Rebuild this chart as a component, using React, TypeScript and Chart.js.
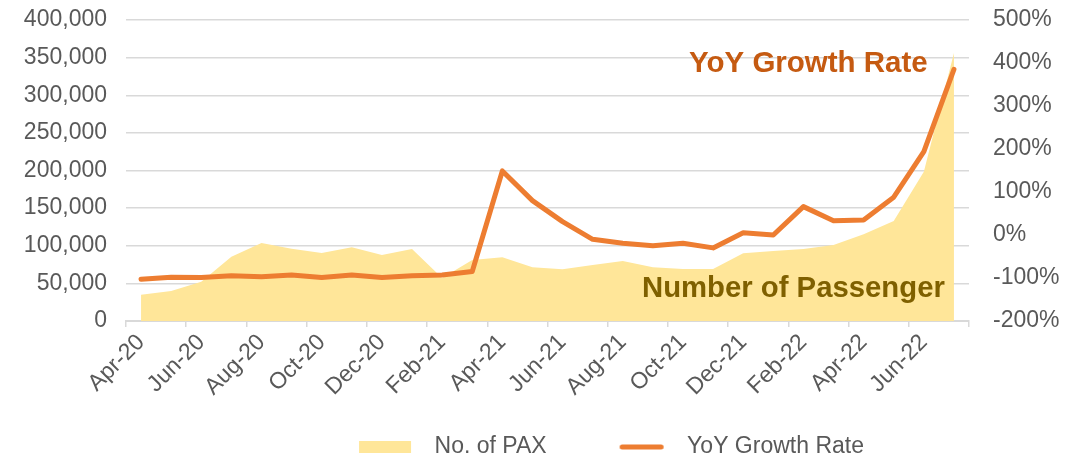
import React, { useEffect, useRef } from 'react';
import { Chart, registerables } from 'chart.js';

Chart.register(...registerables);

const months = [
  'Apr-20', 'May-20', 'Jun-20', 'Jul-20', 'Aug-20', 'Sep-20', 'Oct-20', 'Nov-20', 'Dec-20',
  'Jan-21', 'Feb-21', 'Mar-21', 'Apr-21', 'May-21', 'Jun-21', 'Jul-21', 'Aug-21', 'Sep-21',
  'Oct-21', 'Nov-21', 'Dec-21', 'Jan-22', 'Feb-22', 'Mar-22', 'Apr-22', 'May-22', 'Jun-22', 'Jul-22',
];

const paxValues = [
  35000, 40000, 52000, 85500, 103700, 96100, 90400, 97900, 87700,
  95700, 57000, 81000, 84700, 71400, 68700, 74400, 79700, 71400,
  69100, 69100, 90000, 93000, 95700, 101000, 115200, 132900, 198400, 356000,
];

const yoyGrowth = [
  -103, -98, -99, -95, -97, -93, -99, -93, -99,
  -95, -93, -85, 149, 80, 31, -10, -19, -25,
  -19, -30, 5, 0, 66, 33, 35, 88, 194, 385,
];

const seriesNames = ['No. of PAX', 'YoY Growth Rate'];
const annotationTexts = ['YoY Growth Rate', 'Number of Passenger'];

const FONT = '"Liberation Sans", Arial, sans-serif';
const AREA_COLOR = '#FFE699';
const LINE_COLOR = '#ED7D31';
const GRID_COLOR = '#D9D9D9';
const TEXT_COLOR = '#595959';
const CLEAR = 'rgba(0,0,0,0)';

function makeRectIcon(): HTMLCanvasElement {
  const c = document.createElement('canvas');
  c.width = 112;
  c.height = 12;
  const g = c.getContext('2d')!;
  g.fillStyle = AREA_COLOR;
  g.fillRect(48, 0, 52, 12);
  return c;
}

function makeLineIcon(): HTMLCanvasElement {
  const c = document.createElement('canvas');
  c.width = 112;
  c.height = 12;
  const g = c.getContext('2d')!;
  g.strokeStyle = LINE_COLOR;
  g.lineWidth = 5;
  g.lineCap = 'round';
  g.beginPath();
  g.moveTo(58.5, 6);
  g.lineTo(97.5, 6);
  g.stroke();
  return c;
}

const annotationPlugin = {
  id: 'seriesAnnotations',
  afterDatasetsDraw(chart: any) {
    const ctx = chart.ctx as CanvasRenderingContext2D;
    ctx.save();
    ctx.textAlign = 'left';
    ctx.textBaseline = 'alphabetic';
    ctx.font = `bold 29.5px ${FONT}`;
    ctx.fillStyle = '#C55A11';
    ctx.fillText(annotationTexts[0], 689, 72);
    ctx.font = `bold 29.3px ${FONT}`;
    ctx.fillStyle = '#7F6000';
    ctx.fillText(annotationTexts[1], 642, 297);
    ctx.restore();
  },
};

export default function App() {
  const ref = useRef<HTMLCanvasElement>(null);

  useEffect(() => {
    document.body.style.margin = '0';
    const rectIcon = makeRectIcon();
    const lineIcon = makeLineIcon();
    const tickFont = { size: 23, family: FONT };

    const chart = new Chart(ref.current!, {
      type: 'line',
      data: {
        labels: months,
        datasets: [
          {
            label: seriesNames[0],
            data: paxValues,
            yAxisID: 'y',
            fill: 'origin',
            backgroundColor: AREA_COLOR,
            borderColor: CLEAR,
            borderWidth: 0,
            pointRadius: 0,
            tension: 0,
            order: 2,
          },
          {
            label: seriesNames[1],
            data: yoyGrowth,
            yAxisID: 'y1',
            fill: false,
            borderColor: LINE_COLOR,
            borderWidth: 5,
            borderJoinStyle: 'round',
            borderCapStyle: 'round',
            pointRadius: 0,
            tension: 0,
            order: 1,
          },
        ],
      },
      options: {
        animation: false,
        responsive: false,
        maintainAspectRatio: false,
        layout: { padding: { top: 20, left: 0, right: -102, bottom: 0 } },
        plugins: {
          tooltip: { enabled: false },
          legend: {
            position: 'bottom',
            maxHeight: 38.5,
            labels: {
              usePointStyle: true,
              pointStyleWidth: 112,
              padding: 17,
              color: TEXT_COLOR,
              font: tickFont,
              generateLabels: () => [
                {
                  text: seriesNames[0],
                  pointStyle: rectIcon as any,
                  fillStyle: AREA_COLOR,
                  strokeStyle: CLEAR,
                  lineWidth: 0,
                  hidden: false,
                  datasetIndex: 0,
                  fontColor: TEXT_COLOR,
                },
                {
                  text: seriesNames[1],
                  pointStyle: lineIcon as any,
                  fillStyle: LINE_COLOR,
                  strokeStyle: CLEAR,
                  lineWidth: 0,
                  hidden: false,
                  datasetIndex: 1,
                  fontColor: TEXT_COLOR,
                },
              ],
            },
          },
        },
        scales: {
          x: {
            type: 'category',
            offset: true,
            grid: {
              offset: true,
              drawOnChartArea: false,
              drawTicks: true,
              tickLength: 6,
              lineWidth: 1.5,
              color: (c: any) =>
                c.type !== 'tick' || c.index % 2 === 0 ? GRID_COLOR : CLEAR,
            },
            border: { display: true, color: GRID_COLOR, width: 2 },
            ticks: {
              autoSkip: false,
              minRotation: 45,
              maxRotation: 45,
              padding: 2,
              color: TEXT_COLOR,
              font: tickFont,
              callback: (_v: any, idx: number) => (idx % 2 === 0 ? months[idx] : ''),
            },
            afterFit: (s: any) => {
              s.height = 97.5;
            },
          },
          y: {
            position: 'left',
            min: 0,
            max: 400000,
            ticks: {
              stepSize: 50000,
              padding: 0,
              color: TEXT_COLOR,
              font: tickFont,
              callback: (v: any) => Number(v).toLocaleString('en-US'),
            },
            grid: {
              color: GRID_COLOR,
              lineWidth: 1.5,
              drawTicks: true,
              tickLength: 19,
              tickColor: CLEAR,
            },
            border: { display: false },
            afterFit: (s: any) => {
              s.width = 126;
            },
          },
          y1: {
            position: 'right',
            min: -200,
            max: 500,
            ticks: {
              stepSize: 100,
              padding: 0,
              color: TEXT_COLOR,
              font: tickFont,
              callback: (v: any) => `${v}%`,
            },
            grid: {
              display: true,
              drawOnChartArea: false,
              drawTicks: true,
              tickLength: 24,
              color: CLEAR,
              tickColor: CLEAR,
            },
            border: { display: false },
            afterFit: (s: any) => {
              s.width = 206;
            },
          },
        },
      },
      plugins: [annotationPlugin],
    } as any);

    return () => chart.destroy();
  }, []);

  return (
    <div style={{ width: 1073, height: 457, overflow: 'hidden' }}>
      <canvas ref={ref} width={1073} height={457} style={{ display: 'block' }} />
    </div>
  );
}
